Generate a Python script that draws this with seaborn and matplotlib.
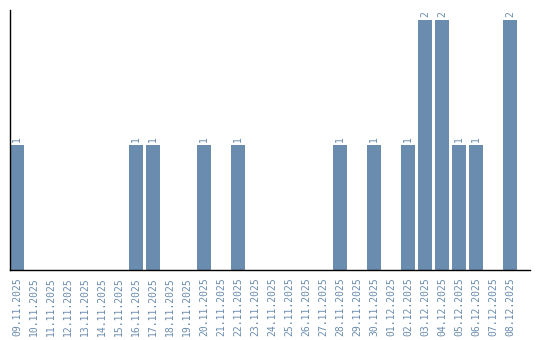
import matplotlib
matplotlib.use("Agg")
import matplotlib.pyplot as plt
import seaborn as sns
import pandas as pd

dates = ["09.11.2025", "10.11.2025", "11.11.2025", "12.11.2025", "13.11.2025",
         "14.11.2025", "15.11.2025", "16.11.2025", "17.11.2025", "18.11.2025",
         "19.11.2025", "20.11.2025", "21.11.2025", "22.11.2025", "23.11.2025",
         "24.11.2025", "25.11.2025", "26.11.2025", "27.11.2025", "28.11.2025",
         "29.11.2025", "30.11.2025", "01.12.2025", "02.12.2025", "03.12.2025",
         "04.12.2025", "05.12.2025", "06.12.2025", "07.12.2025", "08.12.2025"]
counts = [1, 0, 0, 0, 0, 0, 0, 1, 1, 0,
          0, 1, 0, 1, 0, 0, 0, 0, 0, 1,
          0, 1, 0, 1, 2, 2, 1, 1, 0, 2]

color = "#6a8caf"
sns.set_style("white")
df = pd.DataFrame({"date": dates, "count": counts})

fig = plt.figure(figsize=(5.4, 3.4), dpi=100)
ax = fig.add_axes([10/540, 70/340, 520/540, 260/340])
sns.barplot(data=df, x="date", y="count", color=color, width=0.82,
            saturation=1, linewidth=0, ax=ax)

for i, v in enumerate(counts):
    if v > 0:
        ax.text(i, v + 0.025, str(v), rotation=90, ha="center", va="bottom",
                color=color, fontsize=7, family="DejaVu Sans Mono")

ax.set_xlim(-0.41, 30.18)
ax.set_ylim(0, 2.08)
ax.set_xlabel("")
ax.set_ylabel("")
ax.set_yticks([])
ax.tick_params(axis="x", length=0, pad=5, labelsize=7, labelcolor=color)
for lbl in ax.get_xticklabels():
    lbl.set_rotation(90)
    lbl.set_family("DejaVu Sans Mono")
for s in ["top", "right"]:
    ax.spines[s].set_visible(False)
ax.spines["left"].set_color("black")
ax.spines["bottom"].set_color("black")
ax.spines["left"].set_linewidth(1)
ax.spines["bottom"].set_linewidth(1)

fig.savefig("out.png", dpi=100)
